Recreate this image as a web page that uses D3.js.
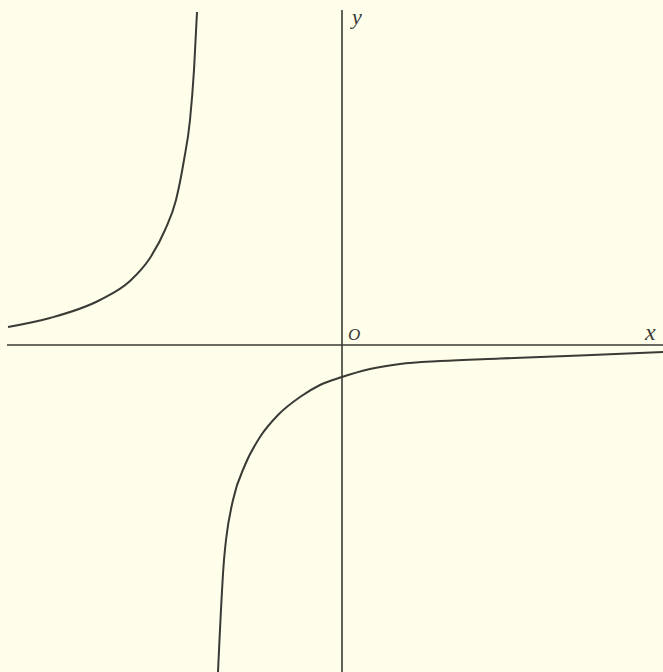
<!DOCTYPE html>
<html lang="en">
<head>
    <meta charset="UTF-8">
    <title>Hyperbola sketch</title>
    <script src="https://cdn.jsdelivr.net/npm/d3@7"></script>
    <style>
        html, body {
            margin: 0;
            padding: 0;
            background: #fffeea;
        }
        .axis {
            stroke: #3a3a36;
            stroke-width: 1.6;
            fill: none;
        }
        .curve {
            stroke: #3a3a36;
            stroke-width: 2;
            fill: none;
        }
        text {
            font-family: "Liberation Serif", "DejaVu Serif", serif;
            font-style: italic;
            fill: #3a3a36;
        }
    </style>
</head>
<body>
<svg height="672" width="663"></svg>

<script>
    // points (1 unit = 100 px)
    const upperBranch = [
        [-3.34, 0.18], [-2.92, 0.27], [-2.42, 0.45], [-2.12, 0.64],
        [-1.92, 0.87], [-1.77, 1.15], [-1.66, 1.45], [-1.58, 1.85],
        [-1.52, 2.25], [-1.48, 2.75], [-1.45, 3.33]
    ];
    const lowerBranch = [
        [-1.24, -3.27], [-1.18, -2.15], [-1.16, -1.95], [-1.09, -1.55],
        [-0.97, -1.20], [-0.82, -0.92], [-0.64, -0.70], [-0.42, -0.52],
        [-0.22, -0.40], [0, -0.32], [0.28, -0.24], [0.58, -0.19],
        [0.98, -0.16], [1.58, -0.135], [2.38, -0.105], [3.21, -0.07]
    ];
    const xAxisEnds = [[-3.35, 0], [3.21, 0]];
    const yAxisEnds = [[0, 3.35], [0, -3.27]];
    const labels = [
        {text: "x", at: [3.03, 0.05], size: 24},
        {text: "y", at: [0.10, 3.21], size: 22},
        {text: "O", at: [0.06, 0.05], size: 17}
    ];

    const svg = d3.select("svg");

    const x = d3.scaleLinear().domain([-3.42, 3.21]).range([0, 663]);
    const y = d3.scaleLinear().domain([3.45, -3.27]).range([0, 672]);

    const line = d3.line()
        .x(d => x(d[0]))
        .y(d => y(d[1]));
    const smooth = d3.line()
        .x(d => x(d[0]))
        .y(d => y(d[1]))
        .curve(d3.curveMonotoneX);

    svg.selectAll("path.axis")
       .data([xAxisEnds, yAxisEnds])
          .join("path").attr("class", "axis")
            .attr("d", line);

    svg.selectAll("path.curve")
       .data([upperBranch, lowerBranch])
          .join("path").attr("class", "curve")
            .attr("d", smooth);

    svg.selectAll("text")
       .data(labels)
          .join("text")
            .attr("x", d => x(d.at[0]))
            .attr("y", d => y(d.at[1]))
            .style("font-size", d => d.size + "px")
            .text(d => d.text);
</script>

</body>
</html>
